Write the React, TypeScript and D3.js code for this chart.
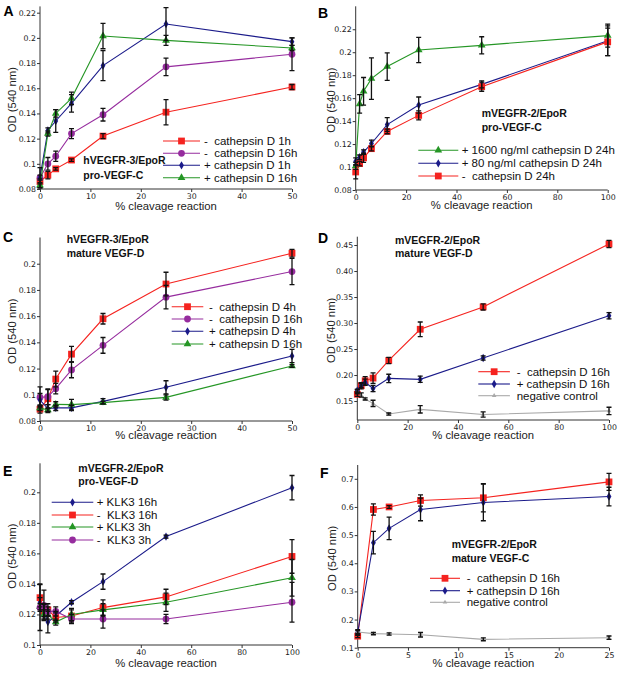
import React, { useEffect, useRef } from "react"
import * as d3 from "d3"

// ---------- Data ----------
// x positions: % cleavage reaction (two-fold dilution series)
const xShort = [0, 1.5625, 3.125, 6.25, 12.5, 25, 50]
const xLong = [0, 1.5625, 3.125, 6.25, 12.5, 25, 50, 100]
const xF = [0, 1.5625, 3.125, 6.25, 12.5, 25]

// Panel A: hVEGFR-3/EpoR, pro-VEGF-C
const aRed = [0.086, 0.091, 0.096, 0.103, 0.122, 0.141, 0.161]
const aRedErr = [0.002, 0.003, 0.001, 0.001, 0.002, 0.010, 0.002]
const aPurple = [0.089, 0.100, 0.106, 0.124, 0.139, 0.177, 0.187]
const aPurpleErr = [0.002, 0.005, 0.004, 0.004, 0.005, 0.007, 0.013]
const aBlue = [0.089, 0.1265, 0.134, 0.148, 0.178, 0.211, 0.197]
const aBlueErr = [0.008, 0.002, 0.009, 0.007, 0.012, 0.013, 0.003]
const aGreen = [0.083, 0.124, 0.140, 0.152, 0.2015, 0.198, 0.192]
const aGreenErr = [0.002, 0.002, 0.003, 0.005, 0.010, 0.004, 0.002]

// Panel B: mVEGFR-2/EpoR, pro-VEGF-C
const bGreen = [0.101, 0.155, 0.166, 0.177, 0.1875, 0.202, 0.206, 0.2145]
const bGreenErr = [0.003, 0.008, 0.012, 0.018, 0.012, 0.011, 0.0075, 0.010]
const bBlue = [0.105, 0.1085, 0.113, 0.1205, 0.137, 0.154, 0.172, 0.210]
const bBlueErr = [0.003, 0.002, 0.002, 0.003, 0.006, 0.007, 0.003, 0.013]
const bRed = [0.0957, 0.103, 0.108, 0.116, 0.131, 0.145, 0.170, 0.209]
const bRedErr = [0.006, 0.002, 0.004, 0.002, 0.002, 0.004, 0.004, 0.012]

// Panel C: hVEGFR-3/EpoR, mature VEGF-D
const cRed = [0.089, 0.097, 0.112, 0.131, 0.158, 0.1845, 0.208]
const cRedErr = [0.003, 0.007, 0.006, 0.006, 0.004, 0.009, 0.003]
const cPurple = [0.098, 0.0985, 0.1047, 0.119, 0.1377, 0.1745, 0.194]
const cPurpleErr = [0.008, 0.006, 0.004, 0.006, 0.006, 0.009, 0.010]
const cBlue = [0.096, 0.0895, 0.090, 0.090, 0.095, 0.1057, 0.1296]
const cBlueErr = [0.005, 0.003, 0.002, 0.002, 0.002, 0.005, 0.005]
const cGreen = [0.090, 0.0884, 0.0927, 0.0925, 0.094, 0.098, 0.122]
const cGreenErr = [0.002, 0.001, 0.002, 0.004, 0.001, 0.002, 0.001]

// Panel D: mVEGFR-2/EpoR, mature VEGF-D
const dRed = [0.163, 0.1795, 0.189, 0.194, 0.228, 0.288, 0.331, 0.452]
const dRedErr = [0.004, 0.006, 0.008, 0.010, 0.006, 0.014, 0.006, 0.007]
const dBlue = [0.170, 0.180, 0.186, 0.174, 0.1935, 0.1917, 0.2327, 0.314]
const dBlueErr = [0.003, 0.004, 0.006, 0.006, 0.008, 0.006, 0.004, 0.006]
const dGray = [0.168, 0.1615, 0.154, 0.1455, 0.125, 0.134, 0.124, 0.131]
const dGrayErr = [0.004, 0.004, 0.002, 0.006, 0.002, 0.007, 0.005, 0.007]

// Panel E: mVEGFR-2/EpoR, pro-VEGF-D
const eBlue = [0.128, 0.1225, 0.115, 0.119, 0.128, 0.1415, 0.171, 0.203]
const eBlueErr = [0.003, 0.004, 0.007, 0.003, 0.001, 0.005, 0.001, 0.008]
const eRed = [0.131, 0.122, 0.123, 0.118, 0.119, 0.1245, 0.1315, 0.158]
const eRedErr = [0.009, 0.005, 0.004, 0.003, 0.004, 0.005, 0.005, 0.011]
const eGreen = [0.125, 0.120, 0.120, 0.115, 0.120, 0.123, 0.128, 0.144]
const eGreenErr = [0.002, 0.003, 0.003, 0.002, 0.004, 0.004, 0.006, 0.012]
const ePurple = [0.1245, 0.126, 0.122, 0.122, 0.117, 0.117, 0.117, 0.128]
const ePurpleErr = [0.015, 0.010, 0.003, 0.003, 0.003, 0.006, 0.003, 0.013]

// Panel F: mVEGFR-2/EpoR, mature VEGF-C
const fRed = [0.141, 0.591, 0.600, 0.623, 0.6325, 0.689]
const fRedErr = [0.005, 0.020, 0.005, 0.020, 0.050, 0.030]
const fBlue = [0.154, 0.473, 0.524, 0.591, 0.616, 0.637]
const fBlueErr = [0.010, 0.040, 0.040, 0.040, 0.065, 0.033]
const fGray = [0.1556, 0.150, 0.1485, 0.146, 0.1296, 0.1355]
const fGrayErr = [0.005, 0.004, 0.004, 0.008, 0.005, 0.006]

// ---------- Styles ----------
const RED = "#f5231f"
const PURPLE = "#962c9e"
const BLUE = "#1b1b8a"
const GREEN = "#259625"
const GRAY = "#a9a9a9"

type Shape = "square" | "circle" | "diamond" | "triangle" | "small"

const symbolFor: Record<Shape, [d3.SymbolType, number]> = {
    square: [d3.symbolSquare, 46],
    circle: [d3.symbolCircle, 36],
    diamond: [d3.symbolDiamond, 20],
    triangle: [d3.symbolTriangle, 26],
    small: [d3.symbolTriangle, 9],
}

interface Series {
    name: string
    color: string
    shape: Shape
    x: number[]
    y: number[]
    err: number[]
}

interface Panel {
    id: string
    left: number
    right: number
    top: number
    bottom: number
    xDomain: [number, number]
    yDomain: [number, number]
    xTicks: number[]
    yTicks: number[]
    yFmt: (d: number) => string
    series: Series[]
    legend: { x1: number; x2: number; tx: number; ys: number[]; order: number[] }
    note: { x: number; y1: number; y2: number; lines: [string, string] }
    label: { x: number; y: number }
    odX: number
    xTitleY: number
}

const trim = (d: number) => String(+d.toFixed(2))
const two = (d: number) => d.toFixed(2)

const panels: Panel[] = [
    {
        id: "A", left: 40, right: 292, top: 6.4, bottom: 189,
        xDomain: [0, 50], yDomain: [0.08, 0.225],
        xTicks: [0, 10, 20, 30, 40, 50],
        yTicks: [0.08, 0.1, 0.12, 0.14, 0.16, 0.18, 0.2, 0.22], yFmt: trim,
        series: [
            { name: "-  cathepsin D 1h", color: RED, shape: "square", x: xShort, y: aRed, err: aRedErr },
            { name: "-  cathepsin D 16h", color: PURPLE, shape: "circle", x: xShort, y: aPurple, err: aPurpleErr },
            { name: "+ cathepsin D 1h", color: BLUE, shape: "diamond", x: xShort, y: aBlue, err: aBlueErr },
            { name: "+ cathepsin D 16h", color: GREEN, shape: "triangle", x: xShort, y: aGreen, err: aGreenErr },
        ],
        legend: { x1: 163, x2: 200, tx: 204, ys: [141, 153.3, 165.3, 177.7], order: [0, 1, 2, 3] },
        note: { x: 83.3, y1: 164, y2: 179, lines: ["hVEGFR-3/EpoR", "pro-VEGF-C"] },
        label: { x: 3.5, y: 16 }, odX: 16, xTitleY: 210,
    },
    {
        id: "B", left: 355.7, right: 607.7, top: 6.3, bottom: 190,
        xDomain: [0, 100], yDomain: [0.08, 0.24],
        xTicks: [0, 20, 40, 60, 80, 100],
        yTicks: [0.08, 0.1, 0.12, 0.14, 0.16, 0.18, 0.2, 0.22], yFmt: trim,
        series: [
            { name: "+ 1600 ng/ml cathepsin D 24h", color: GREEN, shape: "triangle", x: xLong, y: bGreen, err: bGreenErr },
            { name: "+ 80 ng/ml cathepsin D 24h", color: BLUE, shape: "diamond", x: xLong, y: bBlue, err: bBlueErr },
            { name: "-  cathepsin D 24h", color: RED, shape: "square", x: xLong, y: bRed, err: bRedErr },
        ],
        legend: { x1: 418.3, x2: 458.3, tx: 461.7, ys: [150.3, 163.3, 176], order: [0, 1, 2] },
        note: { x: 481.7, y1: 116.7, y2: 131, lines: ["mVEGFR-2/EpoR", "pro-VEGF-C"] },
        label: { x: 318, y: 17.5 }, odX: 335, xTitleY: 209,
    },
    {
        id: "C", left: 40, right: 292, top: 237.5, bottom: 421,
        xDomain: [0, 50], yDomain: [0.08, 0.22],
        xTicks: [0, 10, 20, 30, 40, 50],
        yTicks: [0.08, 0.1, 0.12, 0.14, 0.16, 0.18, 0.2], yFmt: trim,
        series: [
            { name: "-  cathepsin D 4h", color: RED, shape: "square", x: xShort, y: cRed, err: cRedErr },
            { name: "-  cathepsin D 16h", color: PURPLE, shape: "circle", x: xShort, y: cPurple, err: cPurpleErr },
            { name: "+ cathepsin D 4h", color: BLUE, shape: "diamond", x: xShort, y: cBlue, err: cBlueErr },
            { name: "+ cathepsin D 16h", color: GREEN, shape: "triangle", x: xShort, y: cGreen, err: cGreenErr },
        ],
        legend: { x1: 171.7, x2: 203.3, tx: 209, ys: [306.7, 319, 331.3, 344], order: [0, 1, 2, 3] },
        note: { x: 66.7, y1: 243.3, y2: 256.7, lines: ["hVEGFR-3/EpoR", "mature VEGF-D"] },
        label: { x: 3, y: 241.5 }, odX: 16, xTitleY: 439,
    },
    {
        id: "D", left: 357.3, right: 609, top: 236.7, bottom: 420,
        xDomain: [0, 100], yDomain: [0.1135, 0.466],
        xTicks: [0, 20, 40, 60, 80, 100],
        yTicks: [0.15, 0.2, 0.25, 0.3, 0.35, 0.4, 0.45], yFmt: two,
        series: [
            { name: "-  cathepsin D 16h", color: RED, shape: "square", x: xLong, y: dRed, err: dRedErr },
            { name: "+ cathepsin D 16h", color: BLUE, shape: "diamond", x: xLong, y: dBlue, err: dBlueErr },
            { name: "negative control", color: GRAY, shape: "small", x: xLong, y: dGray, err: dGrayErr },
        ],
        legend: { x1: 478.3, x2: 510, tx: 516.7, ys: [371.7, 384, 395.7], order: [0, 1, 2] },
        note: { x: 395, y1: 244, y2: 257.3, lines: ["mVEGFR-2/EpoR", "mature VEGF-D"] },
        label: { x: 318, y: 242.5 }, odX: 335, xTitleY: 439,
    },
    {
        id: "E", left: 40, right: 292, top: 463.3, bottom: 645,
        xDomain: [0, 100], yDomain: [0.1, 0.219],
        xTicks: [0, 20, 40, 60, 80, 100],
        yTicks: [0.1, 0.12, 0.14, 0.16, 0.18, 0.2], yFmt: trim,
        series: [
            { name: "+ KLK3 16h", color: BLUE, shape: "diamond", x: xLong, y: eBlue, err: eBlueErr },
            { name: "-  KLK3 16h", color: RED, shape: "square", x: xLong, y: eRed, err: eRedErr },
            { name: "+ KLK3 3h", color: GREEN, shape: "triangle", x: xLong, y: eGreen, err: eGreenErr },
            { name: "-  KLK3 3h", color: PURPLE, shape: "circle", x: xLong, y: ePurple, err: ePurpleErr },
        ],
        legend: { x1: 51.7, x2: 93.3, tx: 96.7, ys: [502.3, 515, 527, 540], order: [0, 1, 2, 3] },
        note: { x: 78.3, y1: 471.7, y2: 485, lines: ["mVEGFR-2/EpoR", "pro-VEGF-D"] },
        label: { x: 3, y: 475.5 }, odX: 16, xTitleY: 667,
    },
    {
        id: "F", left: 357.7, right: 609, top: 465, bottom: 647.7,
        xDomain: [0, 25], yDomain: [0.1, 0.749],
        xTicks: [0, 5, 10, 15, 20, 25],
        yTicks: [0.1, 0.2, 0.3, 0.4, 0.5, 0.6, 0.7], yFmt: trim,
        series: [
            { name: "-  cathepsin D 16h", color: RED, shape: "square", x: xF, y: fRed, err: fRedErr },
            { name: "+ cathepsin D 16h", color: BLUE, shape: "diamond", x: xF, y: fBlue, err: fBlueErr },
            { name: "negative control", color: GRAY, shape: "small", x: xF, y: fGray, err: fGrayErr },
        ],
        legend: { x1: 430, x2: 460, tx: 466.7, ys: [578.3, 590.7, 602.3], order: [0, 1, 2] },
        note: { x: 451.7, y1: 548.3, y2: 562.3, lines: ["mVEGFR-2/EpoR", "mature VEGF-C"] },
        label: { x: 320, y: 477.5 }, odX: 336, xTitleY: 667,
    },
]

const SANS = "'Liberation Sans', Arial, sans-serif"
const TICK_FONT = "'DejaVu Sans', sans-serif"

// ---------- Component ----------
const App: React.FC = () => {
    const svgRef = useRef<SVGSVGElement>(null)

    useEffect(() => {
        if (!svgRef.current) return
        const svg = d3.select(svgRef.current)
        svg.selectAll("*").remove()

        svg.append("rect").attr("width", 617).attr("height", 673).attr("fill", "#fff")

        for (const p of panels) {
            const g = svg.append("g")
            const x = d3.scaleLinear().domain(p.xDomain).range([p.left, p.right])
            const y = d3.scaleLinear().domain(p.yDomain).range([p.bottom, p.top])

            // Axes
            const xAxis = g.append("g")
                .attr("transform", `translate(0,${p.bottom})`)
                .call(d3.axisBottom(x).tickValues(p.xTicks).tickSize(3).tickPadding(1.5).tickFormat(d => String(d)))
            const yAxis = g.append("g")
                .attr("transform", `translate(${p.left},0)`)
                .call(d3.axisLeft(y).tickValues(p.yTicks).tickSize(3).tickPadding(1).tickFormat(d => p.yFmt(+d)))
            for (const ax of [xAxis, yAxis]) {
                ax.select(".domain").attr("stroke", "#333").attr("stroke-width", 1)
                    .attr("d", ax === xAxis ? `M${p.left},0H${p.right}` : `M0,${p.top}V${p.bottom}`)
                ax.selectAll(".tick line").attr("stroke", "#333")
                ax.selectAll(".tick text").attr("fill", "#222").attr("font-size", 7.8).attr("font-family", TICK_FONT)
            }

            // Series lines and markers
            for (const s of p.series) {
                const pts = s.x.map((xv, i) => ({ x: xv, y: s.y[i], e: s.err[i] }))
                const line = d3.line<{ x: number; y: number }>().x(d => x(d.x)).y(d => y(d.y))
                g.append("path").attr("d", line(pts)).attr("fill", "none")
                    .attr("stroke", s.color).attr("stroke-width", 1.1)
                const [type, size] = symbolFor[s.shape]
                g.selectAll(null).data(pts).enter().append("path")
                    .attr("d", d3.symbol().type(type).size(size)())
                    .attr("transform", d => `translate(${x(d.x)},${y(d.y)})`)
                    .attr("fill", s.color)
            }

            // Error bars on top
            for (const s of p.series) {
                const pts = s.x.map((xv, i) => ({ x: xv, y: s.y[i], e: s.err[i] }))
                const eb = g.append("g").attr("stroke", "#111").attr("stroke-width", 1.3).attr("fill", "none")
                eb.selectAll(null).data(pts).enter().append("path")
                    .attr("d", d => {
                        const cx = x(d.x), y1 = y(d.y - d.e), y2 = y(d.y + d.e)
                        return `M${cx},${y1}V${y2}M${cx - 2.5},${y1}H${cx + 2.5}M${cx - 2.5},${y2}H${cx + 2.5}`
                    })
            }

            // Legend
            p.legend.order.forEach((si, k) => {
                const s = p.series[si]
                const ly = p.legend.ys[k]
                g.append("line").attr("x1", p.legend.x1).attr("x2", p.legend.x2)
                    .attr("y1", ly).attr("y2", ly).attr("stroke", s.color).attr("stroke-width", 1.1)
                const [type, size] = symbolFor[s.shape]
                g.append("path").attr("d", d3.symbol().type(type).size(size)())
                    .attr("transform", `translate(${(p.legend.x1 + p.legend.x2) / 2},${ly})`)
                    .attr("fill", s.color)
                g.append("text").attr("x", p.legend.tx).attr("y", ly + 4)
                    .attr("font-family", SANS).attr("font-size", 11.5).attr("fill", "#111")
                    .style("white-space", "pre")
                    .text(s.name)
            })

            // Annotation
            g.append("text").attr("x", p.note.x).attr("y", p.note.y1)
                .attr("font-family", SANS).attr("font-weight", "bold").attr("font-size", 10.5).attr("fill", "#111")
                .text(p.note.lines[0])
            g.append("text").attr("x", p.note.x).attr("y", p.note.y2)
                .attr("font-family", SANS).attr("font-weight", "bold").attr("font-size", 10.5).attr("fill", "#111")
                .text(p.note.lines[1])

            // Axis titles
            g.append("text").attr("x", (p.left + p.right) / 2).attr("y", p.xTitleY)
                .attr("text-anchor", "middle").attr("font-family", SANS).attr("font-size", 11.3).attr("fill", "#222")
                .text("% cleavage reaction")
            g.append("text")
                .attr("transform", `translate(${p.odX},${(p.top + p.bottom) / 2 + 2}) rotate(-90)`)
                .attr("text-anchor", "middle").attr("font-family", SANS).attr("font-size", 11.3).attr("fill", "#222")
                .text("OD (540 nm)")

            // Panel letter
            g.append("text").attr("x", p.label.x).attr("y", p.label.y)
                .attr("font-family", SANS).attr("font-weight", "bold").attr("font-size", 14).attr("fill", "#000")
                .text(p.id)
        }
    }, [])

    return (
        <div style={{ position: "absolute", left: 0, top: 0 }}>
            <svg ref={svgRef} width={617} height={673} style={{ display: "block" }} />
        </div>
    )
}

export default App
